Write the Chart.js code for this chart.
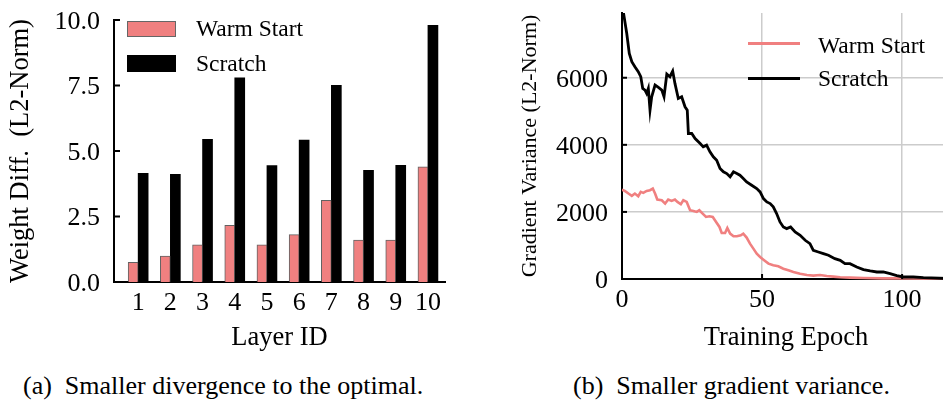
<!DOCTYPE html>
<html><head><meta charset="utf-8">
<script src="https://cdn.jsdelivr.net/npm/chart.js@4"></script>
<style>
html,body{margin:0;padding:0;width:943px;height:400px;overflow:hidden;background:#fff;font-family:'Liberation Serif','Times New Roman',serif;color:#000;}
canvas{position:absolute;top:0;}
#c1{left:0;}
#c2{left:470px;}
.t{position:absolute;white-space:nowrap;line-height:1;}
.lg{font-size:23.5px;}
.cap{font-size:26px;}
.sw{position:absolute;box-sizing:border-box;}
</style></head><body>
<canvas id="c1" width="470" height="360"></canvas>
<canvas id="c2" width="480" height="360"></canvas>

<div class="sw" id="lgWarmBox" style="left:127px;top:21px;width:49px;height:16px;"></div>
<div class="sw" id="lgScrBox" style="left:127px;top:55px;width:49px;height:17px;"></div>
<div class="t lg" style="left:196px;top:17.3px;">Warm Start</div>
<div class="t lg" style="left:196px;top:52px;">Scratch</div>

<div class="sw" id="lgWarmLine" style="left:748px;top:41.5px;width:52px;height:3px;"></div>
<div class="sw" id="lgScrLine" style="left:748px;top:76.5px;width:52px;height:3px;"></div>
<div class="t lg" style="left:818px;top:33.6px;">Warm Start</div>
<div class="t lg" style="left:818px;top:67.3px;">Scratch</div>

<div class="t cap" style="left:23px;top:373px;">(a)&nbsp; Smaller divergence to the optimal.</div>
<div class="t cap" style="left:573px;top:373px;">(b)&nbsp; Smaller gradient variance.</div>

<script>
// ---- data (left panel) ----
const layerIds    = [1, 2, 3, 4, 5, 6, 7, 8, 9, 10];
const warmDiff    = [0.75, 0.99, 1.42, 2.16, 1.42, 1.81, 3.12, 1.60, 1.60, 4.40];
const scratchDiff = [4.15, 4.11, 5.45, 7.79, 4.44, 5.42, 7.51, 4.26, 4.45, 9.80];
const diffTicks   = [0, 2.5, 5, 7.5, 10];

// ---- data (right panel) ----
const warmEpochs = [0, 1, 2.3, 3.5, 4.6, 5.8, 6.7, 7.6, 8.8, 10,
  11, 11.8, 12.6, 14.2, 15.4, 16.5, 17.7, 18.9, 19.8, 21,
  21.9, 23.1, 24.3, 25.5, 26.7, 27.6, 28.8, 30, 31.2, 32.4,
  33.6, 34.8, 35.6, 36.8, 37.6, 38.6, 39.8, 41, 42.4, 43.3,
  44.5, 45.7, 46.9, 48.1, 49.3, 50.5, 52.3, 54, 55.8, 57.6,
  59.4, 61.2, 63.6, 66, 68.3, 70.7, 73.1, 75.5, 77.9, 81.4,
  86.2, 93.3, 100.5, 116];
const warmVar = [2660, 2627, 2547, 2478, 2547, 2468, 2597, 2567, 2627, 2647,
  2697, 2547, 2368, 2348, 2249, 2368, 2328, 2368, 2298, 2229,
  2348, 2298, 2050, 2030, 2000, 2050, 1950, 1851, 1871, 1851,
  1701, 1552, 1373, 1373, 1522, 1353, 1274, 1274, 1303, 1353,
  1234, 1055, 905, 756, 657, 577, 458, 408, 378, 308,
  259, 209, 159, 119, 100, 119, 90, 70, 50, 40,
  30, 20, 20, 10];
const scratchEpochs = [0, 0.5, 1.7, 2.6, 3.5, 4.6, 5.8, 6.7, 7.4, 8.2,
  8.8, 9.4, 10, 10.6, 11.8, 13, 14.2, 15, 16, 17.1,
  18.1, 18.9, 20.1, 21.3, 22.5, 23.3, 23.7, 24.9, 26.1, 27.9,
  29, 30.2, 31.4, 32.6, 33.8, 35, 36.2, 37.4, 38.6, 39.8,
  41, 42.1, 43.3, 44.5, 46.3, 48.1, 49.3, 50.5, 51.7, 52.9,
  54, 55.2, 56.4, 57.6, 58.8, 60.2, 61.8, 63.6, 65.4, 67.1,
  68.3, 70.1, 71.9, 73.7, 76, 77.9, 79.6, 81.4, 83.8, 86.2,
  88.6, 91, 93.3, 95.7, 98.1, 100.5, 104, 107.6, 116];
const scratchVar = [8400, 7950, 7320, 6726, 6477, 6328, 6179, 6030, 5681, 5632,
  5532, 5681, 5035, 5433, 5781, 5711, 5632, 5433, 6109, 6030,
  6199, 5831, 5383, 5433, 5134, 5035, 4338, 4338, 4189, 4040,
  3940, 3990, 3791, 3642, 3542, 3293, 3194, 3144, 3045, 3194,
  3144, 3094, 2995, 2895, 2796, 2696, 2597, 2398, 2298, 2249,
  2149, 1950, 1701, 1552, 1502, 1552, 1403, 1303, 1154, 1055,
  856, 806, 756, 707, 607, 557, 458, 458, 358, 279,
  239, 209, 209, 159, 100, 60, 60, 40, 15];
const varTicks   = [0, 2000, 4000, 6000];
const epochTicks = [0, 50, 100];

const PINK = '#F08080';
const BLACK = '#000000';
const GRID = '#cccccc';
const FONT = "'Liberation Serif', 'Times New Roman', serif";

// legend swatches
document.getElementById('lgWarmBox').style.cssText += `background:${PINK};border:1px solid #666;`;
document.getElementById('lgScrBox').style.background = BLACK;
document.getElementById('lgWarmLine').style.background = PINK;
document.getElementById('lgScrLine').style.background = BLACK;

Chart.defaults.font.family = FONT;
Chart.defaults.color = '#000';

function fixAxis(size, horizontal) {
  return s => {
    if (horizontal) s.height = size; else s.width = size;
    s.paddingTop = 0; s.paddingBottom = 0; s.paddingLeft = 0; s.paddingRight = 0;
  };
}
function setTicks(arr) { return s => { s.ticks = arr.map(v => ({value: v})); }; }

const inwardTicks = {
  id: 'inwardTicks',
  afterDatasetsDraw(chart, args, opts) {
    const ctx = chart.ctx;
    const {left, bottom} = chart.chartArea;
    ctx.save();
    ctx.strokeStyle = '#000';
    ctx.lineWidth = 2;
    ['x', 'y'].forEach(id => {
      const len = opts[id];
      if (!len) return;
      const sc = chart.scales[id];
      sc.ticks.forEach(t => {
        const p = sc.getPixelForValue(t.value);
        ctx.beginPath();
        if (id === 'y') { ctx.moveTo(left, p); ctx.lineTo(left + len, p); }
        else { ctx.moveTo(p, bottom); ctx.lineTo(p, bottom - len); }
        ctx.stroke();
      });
    });
    ctx.restore();
  }
};

const tickFont = {family: FONT, size: 26};
const titleFont = {family: FONT, size: 26.5};

// ---- left: bar chart ----
new Chart(document.getElementById('c1'), {
  type: 'bar',
  data: {
    datasets: [
      {label: 'Warm Start', data: layerIds.map((id, i) => ({x: id, y: warmDiff[i]})),
       backgroundColor: PINK, borderColor: 'rgba(70,70,70,0.85)', borderWidth: 1, borderSkipped: 'bottom', barThickness: 10},
      {label: 'Scratch', data: layerIds.map((id, i) => ({x: id, y: scratchDiff[i]})),
       backgroundColor: BLACK, borderColor: BLACK, borderWidth: 0, barThickness: 10}
    ]
  },
  options: {
    responsive: false, animation: false, devicePixelRatio: 1,
    layout: {padding: {left: 0, top: 20, right: 25, bottom: 0}},
    plugins: {legend: {display: false}, tooltip: {enabled: false}, inwardTicks: {y: 6}},
    scales: {
      x: {
        type: 'linear', min: 0.25, max: 10.53, offset: false,
        afterBuildTicks: setTicks(layerIds),
        afterFit: fixAxis(78, true),
        grid: {display: false, drawTicks: false, offset: false},
        border: {display: true, color: '#000', width: 2},
        ticks: {font: tickFont, padding: 6, autoSkip: false, maxRotation: 0, callback: v => String(v)},
        title: {display: true, text: 'Layer ID', font: titleFont, padding: {top: 0, bottom: 6}}
      },
      y: {
        min: 0, max: 10,
        afterBuildTicks: setTicks(diffTicks),
        afterFit: fixAxis(114, false),
        grid: {display: false, drawTicks: false},
        border: {display: true, color: '#000', width: 2},
        ticks: {font: tickFont, padding: 14, labelOffset: 2, callback: v => Number(v).toFixed(1)},
        title: {display: true, text: 'Weight Diff.  (L2-Norm)', font: titleFont, padding: {top: 5, bottom: 0}}
      }
    }
  },
  plugins: [inwardTicks]
});

// ---- right: line chart ----
new Chart(document.getElementById('c2'), {
  type: 'line',
  data: {
    datasets: [
      {label: 'Warm Start', data: warmEpochs.map((e, i) => ({x: e, y: warmVar[i]})),
       borderColor: PINK, borderWidth: 2.6, pointRadius: 0, tension: 0, fill: false, order: 1,
       clip: {left: 0, top: 0, right: 0, bottom: 5}},
      {label: 'Scratch', data: scratchEpochs.map((e, i) => ({x: e, y: scratchVar[i]})),
       borderColor: BLACK, borderWidth: 2.8, pointRadius: 0, tension: 0, fill: false, order: 0,
       clip: {left: 0, top: 0, right: 0, bottom: 5}}
    ]
  },
  options: {
    responsive: false, animation: false, devicePixelRatio: 1,
    layout: {padding: {left: 0, top: 13, right: 0, bottom: 0}},
    plugins: {legend: {display: false}, tooltip: {enabled: false}, inwardTicks: {x: 5, y: 5}},
    scales: {
      x: {
        type: 'linear', min: 0, max: 117.1,
        afterBuildTicks: setTicks(epochTicks),
        afterFit: fixAxis(81, true),
        grid: {display: true, color: GRID, lineWidth: 1.5, drawTicks: false},
        border: {display: true, color: '#000', width: 2},
        ticks: {font: tickFont, padding: 6, autoSkip: false, maxRotation: 0, callback: v => String(v)},
        title: {display: true, text: 'Training Epoch', font: titleFont, padding: {top: 0, bottom: 6}}
      },
      y: {
        min: 0, max: 7930,
        afterBuildTicks: setTicks(varTicks),
        afterFit: fixAxis(152, false),
        grid: {display: true, color: GRID, lineWidth: 1.5, drawTicks: false},
        border: {display: true, color: '#000', width: 2},
        ticks: {font: tickFont, padding: 14, labelOffset: 2, callback: v => String(v)},
        title: {display: true, text: 'Gradient Variance (L2-Norm)', font: {family: FONT, size: 22}, padding: {top: 47, bottom: 0}}
      }
    }
  },
  plugins: [inwardTicks]
});
</script>
</body></html>
